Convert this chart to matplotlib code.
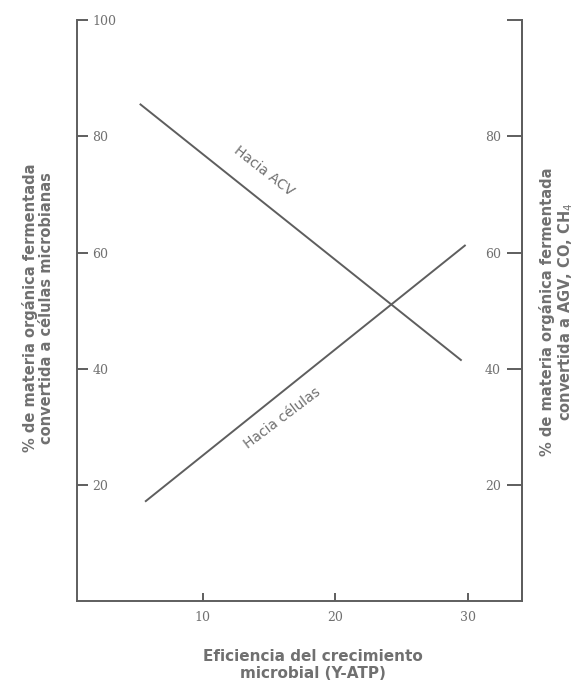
import matplotlib
matplotlib.use("Agg")
import matplotlib.pyplot as plt

# ----- DATA -----
x_agv = [5.3, 29.5]
y_agv = [85.5, 41.5]
x_cel = [5.7, 29.8]
y_cel = [17.2, 61.2]

x_ticks = [10, 20, 30]
y_ticks_left = [20, 40, 60, 80, 100]
y_ticks_right = [20, 40, 60, 80, 100]
y_labels_right = ["20", "40", "60", "80", ""]

GREY = "#5e5e5e"
TXT = "#707070"

fig = plt.figure(figsize=(5.83, 6.98), dpi=100)
ax = fig.add_axes([0.132, 0.139, 0.763, 0.832])
ax.set_xlim(0.5, 34.1)
ax.set_ylim(0, 100)

ax.plot(x_agv, y_agv, color=GREY, lw=1.4)
ax.plot(x_cel, y_cel, color=GREY, lw=1.4)

ax.text(14.6, 74, "Hacia ACV", rotation=-38, rotation_mode="anchor",
        ha="center", va="center", fontsize=10, color=TXT)
ax.text(16.0, 31.5, "Hacia células", rotation=37, rotation_mode="anchor",
        ha="center", va="center", fontsize=10, color=TXT)

ax.spines["top"].set_visible(False)
for s in ["left", "right", "bottom"]:
    ax.spines[s].set_color(GREY)
    ax.spines[s].set_linewidth(1.4)

# left axis: ticks and labels inside
ax.set_yticks(y_ticks_left)
ax.set_yticklabels([str(v) for v in y_ticks_left])
ax.tick_params(axis="y", direction="in", length=8, width=1.4, color=GREY,
               pad=-11, labelsize=9, labelcolor=TXT)
for lab in ax.get_yticklabels():
    lab.set_horizontalalignment("left")
    lab.set_family("DejaVu Serif")

ax.set_xticks(x_ticks)
ax.tick_params(axis="x", direction="in", length=6, width=1.4, color=GREY,
               pad=7, labelsize=9, labelcolor=TXT)
for lab in ax.get_xticklabels():
    lab.set_family("DejaVu Serif")

# right axis
ax2 = ax.twinx()
ax2.set_ylim(0, 100)
ax2.set_yticks(y_ticks_right)
ax2.set_yticklabels(y_labels_right)
ax2.tick_params(axis="y", direction="in", length=11, width=1.4, color=GREY,
                pad=-15, labelsize=9, labelcolor=TXT)
for lab in ax2.get_yticklabels():
    lab.set_horizontalalignment("right")
    lab.set_family("DejaVu Serif")
for s in ["top", "left", "bottom"]:
    ax2.spines[s].set_visible(False)
ax2.spines["right"].set_color(GREY)
ax2.spines["right"].set_linewidth(1.4)

# axis titles
fig.text(38 / 583, 1 - 308 / 698,
         "% de materia orgánica fermentada\nconvertida a células microbianas",
         rotation=90, ha="center", va="center", fontsize=10.5, color=TXT,
         fontweight="bold", linespacing=1.05)
fig.text(557 / 583, 1 - 312 / 698,
         "% de materia orgánica fermentada\nconvertida a AGV, CO, CH$_4$",
         rotation=90, ha="center", va="center", fontsize=10.5, color=TXT,
         fontweight="bold", linespacing=1.05)
fig.text(313 / 583, 1 - 665 / 698,
         "Eficiencia del crecimiento\nmicrobial (Y-ATP)",
         ha="center", va="center", fontsize=11, color=TXT,
         fontweight="bold", linespacing=1.2)

fig.savefig("out.png", dpi=100)
